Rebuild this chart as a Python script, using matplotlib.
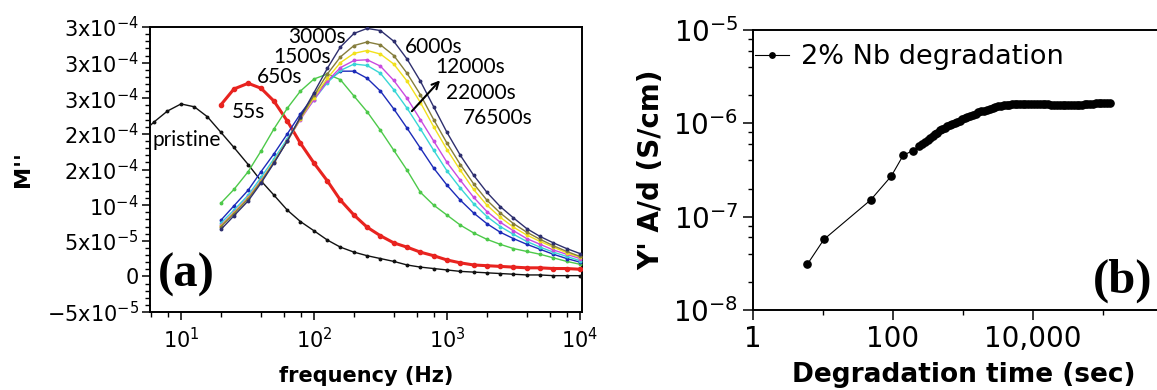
import numpy as np
import matplotlib
matplotlib.use("Agg")
import matplotlib.pyplot as plt
from matplotlib.ticker import FixedLocator, FixedFormatter, LogLocator, NullFormatter

plt.rcParams['font.family'] = ['DejaVu Sans']
plt.rcParams['mathtext.default'] = 'regular'

# ---------------- (a) electric modulus spectra ----------------
freq = [20, 25, 32, 40, 50, 63, 79, 100, 126, 158, 200, 251, 316, 398, 501,
        631, 794, 1000, 1259, 1585, 1995, 2512, 3162, 3981, 5012, 6310, 7943, 10000]
pristine_freq = [5.0, 6.3, 7.9, 10.0, 12.6, 15.8] + freq

# M'' values in units of 1e-4
m_pristine = [2.00, 2.17, 2.32, 2.42, 2.38, 2.24,
              2.02, 1.81, 1.57, 1.34, 1.14, 0.93, 0.77, 0.64, 0.51, 0.41, 0.34, 0.29, 0.25, 0.21,
              0.16, 0.13, 0.11, 0.09, 0.07, 0.06, 0.05, 0.04, 0.03, 0.02, 0.02, 0.01, 0.01, 0.01]
m_55 = [2.41, 2.63, 2.71, 2.64, 2.46, 2.18, 1.87, 1.59, 1.34, 1.07, 0.86, 0.69, 0.57, 0.47,
        0.41, 0.34, 0.29, 0.23, 0.19, 0.16, 0.15, 0.14, 0.13, 0.12, 0.12, 0.11, 0.11, 0.10]
m_650 = [1.03, 1.22, 1.47, 1.76, 2.07, 2.36, 2.60, 2.77, 2.84, 2.76, 2.53, 2.31, 2.05, 1.77,
         1.49, 1.18, 1.00, 0.86, 0.72, 0.61, 0.52, 0.45, 0.39, 0.35, 0.31, 0.26, 0.21, 0.17]
m_1500 = [0.79, 0.99, 1.21, 1.47, 1.72, 2.00, 2.28, 2.53, 2.74, 2.88, 2.88, 2.78, 2.60, 2.35,
          2.08, 1.80, 1.52, 1.28, 1.07, 0.89, 0.74, 0.62, 0.53, 0.45, 0.38, 0.31, 0.25, 0.20]
m_3000 = [0.75, 0.93, 1.14, 1.39, 1.65, 1.93, 2.22, 2.48, 2.72, 2.89, 2.98, 2.96, 2.85, 2.62,
          2.36, 2.07, 1.77, 1.48, 1.24, 1.02, 0.84, 0.70, 0.59, 0.49, 0.41, 0.34, 0.28, 0.22]
m_6000 = [0.72, 0.90, 1.11, 1.35, 1.61, 1.90, 2.20, 2.48, 2.74, 2.93, 3.03, 3.04, 2.95, 2.75,
          2.50, 2.20, 1.90, 1.60, 1.35, 1.11, 0.91, 0.76, 0.64, 0.53, 0.45, 0.37, 0.31, 0.25]
m_12000 = [0.71, 0.89, 1.10, 1.34, 1.61, 1.90, 2.21, 2.51, 2.78, 3.00, 3.13, 3.17, 3.12, 2.98,
           2.74, 2.44, 2.10, 1.78, 1.49, 1.22, 1.00, 0.83, 0.69, 0.58, 0.49, 0.41, 0.33, 0.27]
m_22000 = [0.70, 0.88, 1.09, 1.33, 1.60, 1.90, 2.22, 2.54, 2.84, 3.08, 3.24, 3.29, 3.25, 3.10,
           2.85, 2.55, 2.20, 1.87, 1.57, 1.30, 1.07, 0.89, 0.74, 0.62, 0.52, 0.43, 0.35, 0.28]
m_76500 = [0.66, 0.85, 1.06, 1.31, 1.59, 1.90, 2.24, 2.58, 2.92, 3.22, 3.41, 3.48, 3.45, 3.30,
           3.05, 2.74, 2.38, 2.02, 1.70, 1.42, 1.18, 0.98, 0.82, 0.67, 0.56, 0.47, 0.39, 0.32]

aged_series = [m_55, m_650, m_1500, m_3000, m_6000, m_12000, m_22000, m_76500]
aged_colors = ['#e8231f', '#4dc94a', '#1c2bb8', '#38d6d6', '#c94ae0', '#f2e11c', '#857d3c', '#2e2f6e']

ytick_vals = [-5e-5, 0, 5e-5, 1e-4, 1.5e-4, 2e-4, 2.5e-4, 3e-4, 3.5e-4]
ytick_text = [r'$-5x10^{-5}$', '0', r'$5x10^{-5}$', r'$10^{-4}$', r'$2x10^{-4}$',
              r'$2x10^{-4}$', r'$3x10^{-4}$', r'$3x10^{-4}$', r'$3x10^{-4}$']

# curve annotations: (text, frequency, M'')
curve_labels = [('pristine', 6.15, 1.91e-4), ('55s', 24.2, 2.31e-4), ('650s', 37.3, 2.80e-4),
                ('1500s', 49.2, 3.08e-4), ('3000s', 63.8, 3.36e-4), ('6000s', 483, 3.22e-4),
                ('12000s', 813, 2.94e-4), ('22000s', 982, 2.57e-4), ('76500s', 1318, 2.22e-4)]

# ---------------- (b) conductance vs degradation time ----------------
deg_time = [6.0, 10.3, 48, 94.6, 140, 191, 238, 260, 286, 312, 338, 368, 398, 430, 469, 510,
            555, 600, 650, 700, 760, 830, 900, 980, 1060, 1150, 1260, 1390, 1520, 1660, 1820,
            2000, 2200, 2400, 2650, 2900, 3200, 3500, 3810, 4200, 4600, 5000, 5500, 6000, 6520,
            7100, 7800, 8500, 9300, 10200, 11400, 12500, 13700, 15000, 16500, 18000, 20000,
            22000, 24000, 26500, 29000, 32000, 35000, 38500, 42000, 46000, 50000, 55000, 60000,
            66000, 72000, 79000, 87000, 95000, 104000, 114000, 126000]
conductance = [3.1e-8, 5.7e-8, 1.51e-7, 2.72e-7, 4.54e-7, 5.09e-7, 5.7e-7, 6.0e-7, 6.35e-7,
               6.6e-7, 6.9e-7, 7.3e-7, 7.7e-7, 7.95e-7, 8.4e-7, 8.7e-7, 9.0e-7, 9.3e-7, 9.6e-7,
               9.85e-7, 1.01e-6, 1.04e-6, 1.07e-6, 1.10e-6, 1.13e-6, 1.16e-6, 1.19e-6, 1.23e-6,
               1.27e-6, 1.31e-6, 1.34e-6, 1.37e-6, 1.40e-6, 1.43e-6, 1.46e-6, 1.49e-6, 1.52e-6,
               1.54e-6, 1.56e-6, 1.575e-6, 1.59e-6, 1.60e-6, 1.61e-6, 1.615e-6, 1.62e-6, 1.62e-6,
               1.625e-6, 1.62e-6, 1.62e-6, 1.615e-6, 1.61e-6, 1.61e-6, 1.60e-6, 1.60e-6, 1.595e-6,
               1.59e-6, 1.585e-6, 1.58e-6, 1.58e-6, 1.575e-6, 1.57e-6, 1.57e-6, 1.57e-6, 1.575e-6,
               1.58e-6, 1.585e-6, 1.59e-6, 1.60e-6, 1.61e-6, 1.62e-6, 1.63e-6, 1.635e-6, 1.64e-6,
               1.645e-6, 1.65e-6, 1.65e-6, 1.65e-6]
xtick_b = [1, 100, 10000]
xtick_b_text = ['1', '100', '10,000']

fig = plt.figure(figsize=(11.57, 3.90), dpi=100)
W, H = 1157.0, 390.0

# ---- panel (a)
ax = fig.add_axes([150 / W, 1 - 312 / H, 432 / W, 285 / H])
ax.set_xscale('log')
ax.plot(pristine_freq, np.array(m_pristine) * 1e-4, '-o', color='#111111', lw=1.0, ms=1.8, zorder=3)
for vals, col in zip(aged_series, aged_colors):
    lw, ms = (2.2, 3.0) if col == '#e8231f' else (1.0, 1.8)
    ax.plot(freq, np.array(vals) * 1e-4, '-o', color=col, lw=lw, ms=ms, zorder=3)

ax.set_xlim(10 ** 0.767, 10 ** 4.015)
ax.set_ylim(-5e-5, 3.5e-4)
ax.yaxis.set_major_locator(FixedLocator(ytick_vals))
ax.yaxis.set_major_formatter(FixedFormatter(ytick_text))
ax.yaxis.set_minor_locator(FixedLocator(np.arange(-5e-5, 3.51e-4, 1e-5)))
ax.xaxis.set_major_locator(LogLocator(base=10, numticks=10))
ax.xaxis.set_minor_locator(LogLocator(base=10, subs=(2, 4, 6, 8), numticks=10))
ax.xaxis.set_minor_formatter(NullFormatter())
ax.tick_params(axis='both', which='major', direction='out', length=6, width=1.1, labelsize=15,
               top=False, right=False)
ax.tick_params(axis='both', which='minor', direction='out', length=3.5, width=1.0,
               top=False, right=False)
ax.tick_params(axis='x', which='major', pad=5)
ax.tick_params(axis='y', which='major', pad=2)
for s in ax.spines.values():
    s.set_linewidth(1.4)
ax.set_xlabel('frequency (Hz)', fontsize=15, fontweight='bold', labelpad=10)
ax.set_ylabel("M''", fontsize=16, fontweight='bold', labelpad=10)

for txt, fx, fy in curve_labels:
    ax.text(fx, fy, txt, fontsize=15, family='Lato', ha='left', va='center', zorder=5)
ax.annotate('', xy=(916, 2.78e-4), xytext=(527, 2.29e-4),
            arrowprops=dict(arrowstyle='->', color='black', lw=1.5, mutation_scale=12))
ax.text(0.018, 0.13, '(a)', transform=ax.transAxes, fontsize=35, fontweight='bold',
        family='Liberation Serif', ha='left', va='center')

# ---- panel (b)
bx = fig.add_axes([753 / W, 1 - 310 / H, 422 / W, 280 / H])
bx.set_xscale('log')
bx.set_yscale('log')
bx.plot(deg_time, conductance, '-o', color='black', lw=0.8, ms=5.2, mec='black',
        label='2% Nb degradation', zorder=3)
bx.set_xlim(1, 10 ** 6.03)
bx.set_ylim(1e-8, 1e-5)
bx.xaxis.set_major_locator(FixedLocator(xtick_b))
bx.xaxis.set_major_formatter(FixedFormatter(xtick_b_text))
bx.xaxis.set_minor_locator(FixedLocator([10, 1000, 100000]))
bx.xaxis.set_minor_formatter(NullFormatter())
bx.yaxis.set_major_locator(LogLocator(base=10, numticks=10))
bx.yaxis.set_minor_locator(LogLocator(base=10, subs=(2, 4, 6, 8), numticks=10))
bx.yaxis.set_minor_formatter(NullFormatter())
bx.tick_params(axis='both', which='major', direction='out', length=7, width=1.1, labelsize=20,
               top=False, right=False)
bx.tick_params(axis='both', which='minor', direction='out', length=3.5, width=1.0,
               top=False, right=False)
bx.tick_params(axis='x', which='major', pad=4)
bx.spines['right'].set_visible(False)
for s in bx.spines.values():
    s.set_linewidth(1.4)
bx.set_xlabel('Degradation time (sec)', fontsize=19, fontweight='bold', labelpad=6)
bx.set_ylabel("Y' A/d (S/cm)", fontsize=20, fontweight='bold', labelpad=6)
leg = bx.legend(loc='center left', bbox_to_anchor=(0.005, 1 - 27 / 280), frameon=False,
                fontsize=19.5, handlelength=1.25, handletextpad=0.45, borderpad=0,
                borderaxespad=0, markerscale=0.75)
fig.text(1093 / W, 1 - 281 / H, '(b)', fontsize=35, fontweight='bold',
         family='Liberation Serif', ha='left', va='center')

fig.savefig('out.png', dpi=100)
